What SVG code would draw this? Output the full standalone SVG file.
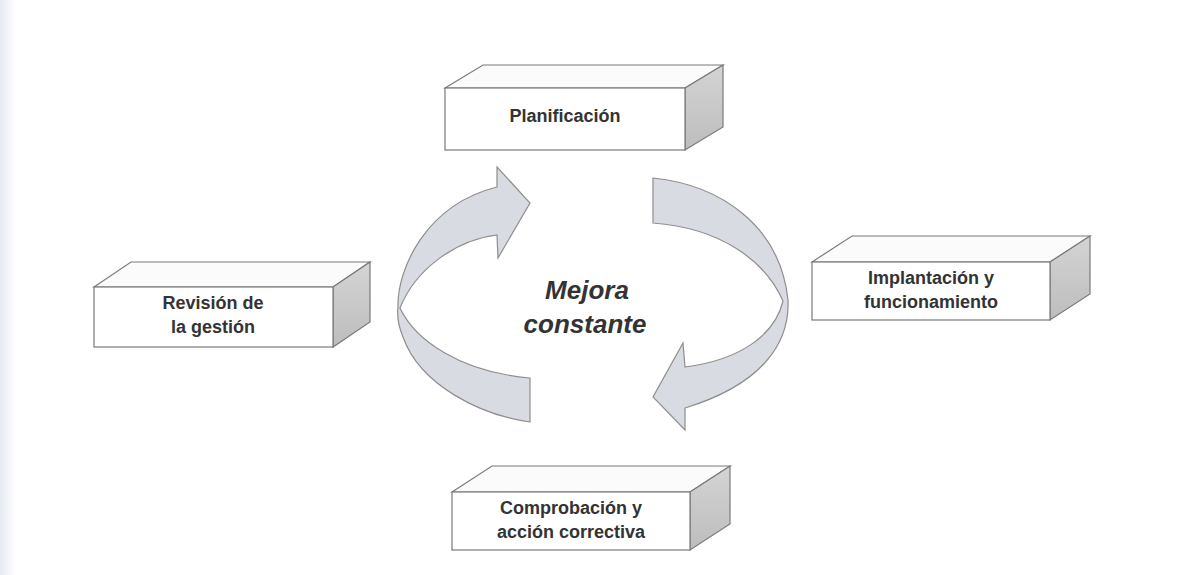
<svg xmlns="http://www.w3.org/2000/svg" width="1186" height="575" viewBox="0 0 1186 575">
<defs>
<linearGradient id="side" x1="0" y1="0" x2="0" y2="1">
<stop offset="0" stop-color="#d4d4d4"/>
<stop offset="1" stop-color="#bdbdbd"/>
</linearGradient>
<linearGradient id="edge" x1="0" y1="0" x2="1" y2="0">
<stop offset="0" stop-color="#e6eaf2"/>
<stop offset="1" stop-color="#ffffff"/>
</linearGradient>
</defs>
<style>
.front{fill:#ffffff;stroke:#7a7a7a;stroke-width:1.2}
.top{fill:#fbfbfb;stroke:#7a7a7a;stroke-width:1.2}
.side{fill:url(#side);stroke:#7a7a7a;stroke-width:1.2}
.lbl{font-family:"Liberation Sans",Arial,sans-serif;font-weight:bold;font-size:18px;fill:#333;text-anchor:middle}
.center{font-family:"Liberation Sans",Arial,sans-serif;font-weight:bold;font-style:italic;font-size:26px;fill:#333;text-anchor:middle}
.arrow{fill:#d8dbe1;stroke:#8e8e8e;stroke-width:1.2;stroke-linejoin:miter}
</style>
<rect x="0" y="0" width="1186" height="575" fill="#ffffff"/>
<rect x="0" y="0" width="16" height="575" fill="url(#edge)"/>

<g id="connectors">
<path class="arrow" d="M530,422 C480,415 420,385 403,337 C398,325 397,315 398,307 C397,270 425,205 497,187 L497,167 L530,203 L498,258 L497,235 C455,240 415,270 400,308 C415,340 460,372 530,378 Z"/>
<path class="arrow" d="M653,178 C720,185 780,225 788,300 C790,345 760,385 685,408 L685,430 L653,397 L683,343 L685,367 C740,360 775,335 783,301 C765,260 720,228 653,223 Z"/>
</g>

<g id="plan">
<path class="top" d="M445,88 L483,65 L723,65 L685,88 Z"/>
<path class="side" d="M685,88 L723,65 L723,127 L685,150 Z"/>
<rect class="front" x="445" y="88" width="240" height="62"/>
<text class="lbl" x="565" y="122">Planificación</text>
</g>

<g id="revision">
<path class="top" d="M94,287 L131,262 L370,262 L333,287 Z"/>
<path class="side" d="M333,287 L370,262 L370,322 L333,347 Z"/>
<rect class="front" x="94" y="287" width="239" height="60"/>
<text class="lbl" x="213" y="309">Revisión de</text>
<text class="lbl" x="213" y="333">la gestión</text>
</g>

<g id="implantacion">
<path class="top" d="M812,262 L852,236 L1090,236 L1050,262 Z"/>
<path class="side" d="M1050,262 L1090,236 L1090,294 L1050,320 Z"/>
<rect class="front" x="812" y="262" width="238" height="58"/>
<text class="lbl" x="931" y="284">Implantación y</text>
<text class="lbl" x="931" y="308">funcionamiento</text>
</g>

<g id="comprobacion">
<path class="top" d="M452,492 L492,466 L730,466 L690,492 Z"/>
<path class="side" d="M690,492 L730,466 L730,524 L690,550 Z"/>
<rect class="front" x="452" y="492" width="238" height="58"/>
<text class="lbl" x="571" y="514">Comprobación y</text>
<text class="lbl" x="571" y="538">acción correctiva</text>
</g>

<g id="mejora">
<text class="center" x="587" y="299">Mejora</text>
<text class="center" x="585" y="333">constante</text>
</g>
</svg>
